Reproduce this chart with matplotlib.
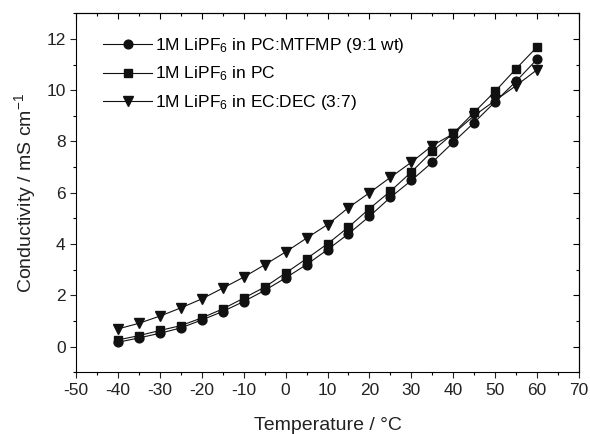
import matplotlib
matplotlib.use("Agg")
import matplotlib.pyplot as plt
import numpy as np

temperature = [-40, -35, -30, -25, -20, -15, -10, -5, 0, 5, 10, 15, 20, 25, 30, 35, 40, 45, 50, 55, 60]
cond_mtfmp = [0.17, 0.34, 0.52, 0.73, 1.04, 1.37, 1.76, 2.19, 2.68, 3.20, 3.78, 4.40, 5.08,
              5.82, 6.48, 7.19, 7.97, 8.74, 9.55, 10.35, 11.21]
cond_pc = [0.26, 0.43, 0.63, 0.82, 1.12, 1.47, 1.89, 2.32, 2.87, 3.43, 4.01, 4.66, 5.38,
           6.06, 6.81, 7.62, 8.32, 9.14, 9.96, 10.84, 11.69]
cond_ecdec = [0.69, 0.91, 1.19, 1.51, 1.86, 2.28, 2.71, 3.19, 3.69, 4.23, 4.76, 5.42, 6.00,
              6.60, 7.19, 7.84, 8.30, 9.01, 9.60, 10.18, 10.80]
labels = ["1M LiPF$_6$ in PC:MTFMP (9:1 wt)", "1M LiPF$_6$ in PC", "1M LiPF$_6$ in EC:DEC (3:7)"]
xticks = [-50, -40, -30, -20, -10, 0, 10, 20, 30, 40, 50, 60, 70]
yticks = [0, 2, 4, 6, 8, 10, 12]

plt.rcParams['font.family'] = ['Liberation Sans', 'DejaVu Sans']
plt.rcParams['mathtext.fontset'] = 'custom'
plt.rcParams['mathtext.rm'] = 'Liberation Sans'
plt.rcParams['mathtext.it'] = 'Liberation Sans:italic'
plt.rcParams['mathtext.bf'] = 'Liberation Sans:bold'
plt.rcParams['axes.unicode_minus'] = False

fig = plt.figure(figsize=(5.9, 4.34), dpi=100)
ax = fig.add_axes([0.1288, 0.1422, 0.8526, 0.8272])

col = '#111111'
ax.plot(temperature, cond_mtfmp, '-o', color=col, lw=0.8, ms=6.3, label=labels[0])
ax.plot(temperature, cond_pc, '-s', color=col, lw=0.8, ms=5.8, label=labels[1])
ax.plot(temperature, cond_ecdec, '-v', color=col, lw=0.8, ms=7.2, label=labels[2])

ax.set_xlim(-50, 70)
ax.set_ylim(-1, 13)
ax.set_xticks(xticks)
ax.set_yticks(yticks)
ax.set_xticks(np.arange(-45, 70, 10), minor=True)
ax.set_yticks(np.arange(-1, 13.01, 2), minor=True)
ax.tick_params(axis='both', which='major', direction='out', length=4, width=0.8, labelsize=12.5, colors='#222222')
ax.tick_params(axis='both', which='minor', direction='out', length=2.5, width=0.8)

secx = ax.secondary_xaxis('top')
secx.set_xticks(xticks)
secx.set_xticks(np.arange(-45, 70, 10), minor=True)
secx.tick_params(which='major', direction='in', length=4, width=0.8, labeltop=False)
secx.tick_params(which='minor', direction='in', length=2.5, width=0.8)
secy = ax.secondary_yaxis('right')
secy.set_yticks(yticks)
secy.set_yticks(np.arange(-1, 13.01, 2), minor=True)
secy.tick_params(which='major', direction='in', length=4, width=0.8, labelright=False)
secy.tick_params(which='minor', direction='in', length=2.5, width=0.8)

for s in ax.spines.values():
    s.set_linewidth(0.8)

ax.set_xlabel('Temperature / °C', fontsize=14, labelpad=14, color='#222222')
ax.set_ylabel('Conductivity / mS cm$^{-1}$', fontsize=14, labelpad=6, color='#222222')

ax.legend(loc='upper left', frameon=False, fontsize=12.5, handlelength=2.8,
          handletextpad=0.2, labelspacing=0.55, borderaxespad=0.3,
          bbox_to_anchor=(0.03, 0.97))

fig.savefig('out.png', dpi=100)
